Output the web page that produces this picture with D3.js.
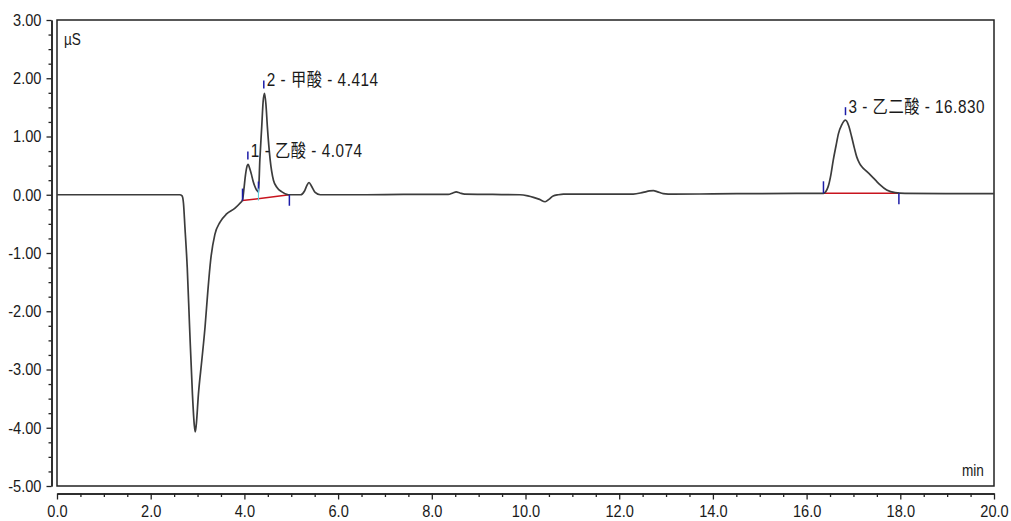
<!DOCTYPE html>
<html>
<head>
<meta charset="utf-8">
<script src="https://cdn.jsdelivr.net/npm/d3@7"></script>
<style>
  html, body { margin: 0; padding: 0; background: #fff; }
  svg { display: block; }
  .tick text, .unit { font-family: "Liberation Sans", Arial, sans-serif; font-size: 17px; fill: #1a1a1a; }
  .peak-label { font-family: "Liberation Sans", Arial, "Noto Sans CJK SC", sans-serif; font-size: 18px; fill: #1a1a1a; letter-spacing: 0.6px; }
</style>
</head>
<body>
<svg width="1011" height="521"></svg>
<script>
// Ion chromatogram (conductivity vs. retention time) with integrated peaks.
//
// Trace points; the peak table gives
// names, apex times and the integration start / end times.
// Text is squeezed horizontally to mimic the instrument's narrow font.

// trace: retention time (min) and signal (µS)
var traceTime = [
    0, 1, 2, 2.62, 2.67, 2.70, 2.73, 2.78, 2.83, 2.89, 2.93, 2.95, 2.97,
    3.02, 3.09, 3.16, 3.22, 3.28, 3.37, 3.48, 3.62, 3.80, 3.90, 3.96,
    3.99, 4.02, 4.05, 4.08, 4.11, 4.15, 4.18, 4.22, 4.26, 4.30,
    4.33, 4.37, 4.40, 4.43, 4.46, 4.49, 4.55, 4.62, 4.70, 4.80, 4.94,
    5.20, 5.28, 5.34, 5.38, 5.43, 5.51, 5.62, 6.5, 7.5,
    8.35, 8.45, 8.52, 8.60, 8.70, 9.3, 9.88, 10.05, 10.17, 10.30, 10.42,
    10.50, 10.59, 10.70, 10.81, 11.5, 12.30, 12.51, 12.65, 12.73, 12.82,
    12.94, 13.15, 14.0, 15.0, 16.0, 16.36, 16.46, 16.52, 16.57, 16.63,
    16.68, 16.75, 16.83, 16.90, 16.96, 17.02, 17.07, 17.13, 17.18, 17.27,
    17.36, 17.47, 17.57, 17.71, 17.89, 18.1, 19.0, 20.0
];
var traceSignal = [
    0, 0, 0, 0, -0.02, -0.15, -0.55, -1.25, -2.27, -3.41, -3.95, -4.07, -3.97,
    -3.41, -2.85, -2.27, -1.65, -1.12, -0.68, -0.47, -0.33, -0.23, -0.15, -0.09,
    0.10, 0.32, 0.47, 0.52, 0.46, 0.35, 0.25, 0.15, 0.08, 0.05,
    0.60, 1.17, 1.60, 1.74, 1.55, 1.17, 0.60, 0.25, 0.12, 0.05, 0.00,
    0.00, 0.06, 0.17, 0.21, 0.15, 0.04, 0.00, 0.00, 0.005,
    0.005, 0.03, 0.05, 0.03, 0.01, 0.005, 0.00, -0.02, -0.045, -0.08, -0.12,
    -0.08, -0.02, 0.00, 0.01, 0.01, 0.01, 0.04, 0.065, 0.07, 0.05,
    0.02, 0.01, 0.015, 0.02, 0.025, 0.025, 0.14, 0.35, 0.60, 0.85,
    1.05, 1.20, 1.28, 1.18, 1.00, 0.80, 0.65, 0.54, 0.48, 0.41,
    0.34, 0.25, 0.17, 0.08, 0.035, 0.025, 0.02, 0.02
];

// peak table
var peakNumbers = [1, 2, 3];
var peakNames = ['乙酸', '甲酸', '乙二酸'];
var peakTimes = [4.074, 4.414, 16.830];
var peakHeights = [0.52, 1.74, 1.28];

// integration baselines
var baseStartTime = [3.96, 16.36];
var baseStartLevel = [-0.10, 0.025];
var baseEndTime = [4.96, 17.97];
var baseEndLevel = [0.00, 0.025];
var valleyTimes = [4.30];
var valleyLevels = [-0.065];

// axis ticks
var yTicks = [-5, -4, -3, -2, -1, 0, 1, 2, 3];
var xTicks = [0, 2, 4, 6, 8, 10, 12, 14, 16, 18, 20];

var svg = d3.select('svg');
var plotLeft = 57, plotRight = 994, plotTop = 20, plotBottom = 486;
var squeeze = 0.86;

var x = d3.scaleLinear().domain([0, 20]).range([plotLeft, plotRight]);
var y = d3.scaleLinear().domain([-5, 3]).range([plotBottom, plotTop]);

// minor ticks sit between the labelled ones
var yMinor = d3.range(-5, 3.001, 0.25).filter(function(v) { return Math.abs(v - Math.round(v)) > 1e-6; });
var xMinor = d3.range(0, 20.001, 0.5).filter(function(v) { return Math.abs(v / 2 - Math.round(v / 2)) > 1e-6; });

function fixAxis(g) {
    g.select('.domain').attr('stroke', '#222').attr('stroke-width', 1.5);
    g.selectAll('.tick line').attr('stroke', '#222').attr('stroke-width', 1.3);
    g.selectAll('.tick text')
        .attr('font-family', null)
        .attr('font-size', null)
        .attr('transform', 'scale(' + squeeze + ',1)');
}

// y axis, a little left of the frame
svg.append('g')
    .attr('transform', 'translate(51.5,0)')
    .call(d3.axisLeft(y).tickValues(yMinor).tickSize(3).tickSizeOuter(0).tickFormat(''))
    .call(fixAxis);
svg.append('g')
    .attr('transform', 'translate(51.5,0)')
    .call(d3.axisLeft(y).tickValues(yTicks).tickSize(5).tickSizeOuter(0)
        .tickFormat(function(d) { return d.toFixed(2); }))
    .call(fixAxis)
    .selectAll('.tick text').attr('x', -10 / squeeze);

// x axis, a little below the frame
svg.append('g')
    .attr('transform', 'translate(0,493.5)')
    .call(d3.axisBottom(x).tickValues(xMinor).tickSize(3.5).tickSizeOuter(0).tickFormat(''))
    .call(fixAxis);
svg.append('g')
    .attr('transform', 'translate(0,493.5)')
    .call(d3.axisBottom(x).tickValues(xTicks).tickSize(6).tickSizeOuter(0).tickPadding(5)
        .tickFormat(function(d) { return d.toFixed(1); }))
    .call(fixAxis);

// plot frame
svg.append('rect')
    .attr('x', plotLeft).attr('y', plotTop)
    .attr('width', plotRight - plotLeft).attr('height', plotBottom - plotTop)
    .attr('fill', 'none').attr('stroke', '#222').attr('stroke-width', 1.5);

svg.append('text').attr('class', 'unit')
    .attr('transform', 'translate(64,45) scale(0.8,1)').text('µS');
svg.append('text').attr('class', 'unit')
    .attr('transform', 'translate(962,476) scale(0.8,1)').text('min');

// integration baselines (red)
var base = svg.append('g').attr('stroke', '#c8141e').attr('stroke-width', 1.5);
baseStartTime.forEach(function(t, i) {
    base.append('line')
        .attr('x1', x(t)).attr('y1', y(baseStartLevel[i]))
        .attr('x2', x(baseEndTime[i])).attr('y2', y(baseEndLevel[i]));
});

// the trace
var line = d3.line()
    .x(function(d) { return x(d[0]); })
    .y(function(d) { return y(d[1]); })
    .curve(d3.curveMonotoneX);

svg.append('path')
    .datum(d3.zip(traceTime, traceSignal))
    .attr('d', line)
    .attr('fill', 'none')
    .attr('stroke', '#3c3c3c')
    .attr('stroke-width', 1.7)
    .attr('stroke-linejoin', 'round');

// integration markers (blue ticks at start / end / valley)
var marks = svg.append('g').attr('stroke', '#1c1ca8').attr('stroke-width', 1.5);
baseStartTime.forEach(function(t, i) {
    marks.append('line')
        .attr('x1', x(t)).attr('x2', x(t))
        .attr('y1', y(baseStartLevel[i])).attr('y2', y(baseStartLevel[i]) - 12);
});
baseEndTime.forEach(function(t, i) {
    marks.append('line')
        .attr('x1', x(t)).attr('x2', x(t))
        .attr('y1', y(baseEndLevel[i])).attr('y2', y(baseEndLevel[i]) + 11);
});
valleyTimes.forEach(function(t, i) {
    svg.append('line')
        .attr('x1', x(t)).attr('x2', x(t))
        .attr('y1', y(valleyLevels[i]) - 10).attr('y2', y(valleyLevels[i]) + 2)
        .attr('stroke', '#5fd0dc').attr('stroke-width', 1.1);
    marks.append('line')
        .attr('x1', x(t)).attr('x2', x(t))
        .attr('y1', y(valleyLevels[i]) - 17).attr('y2', y(valleyLevels[i]) - 6);
});

// apex markers and labels
peakTimes.forEach(function(t, i) {
    var ay = y(peakHeights[i]);
    marks.append('line')
        .attr('x1', x(t)).attr('x2', x(t))
        .attr('y1', ay - 5).attr('y2', ay - 13);
    svg.append('text')
        .attr('class', 'peak-label')
        .attr('transform', 'translate(' + (x(t) + 3) + ',' + (ay - 7) + ') scale(0.85,1)')
        .text(peakNumbers[i] + ' - ' + peakNames[i] + ' - ' + t.toFixed(3));
});
</script>
</body>
</html>
